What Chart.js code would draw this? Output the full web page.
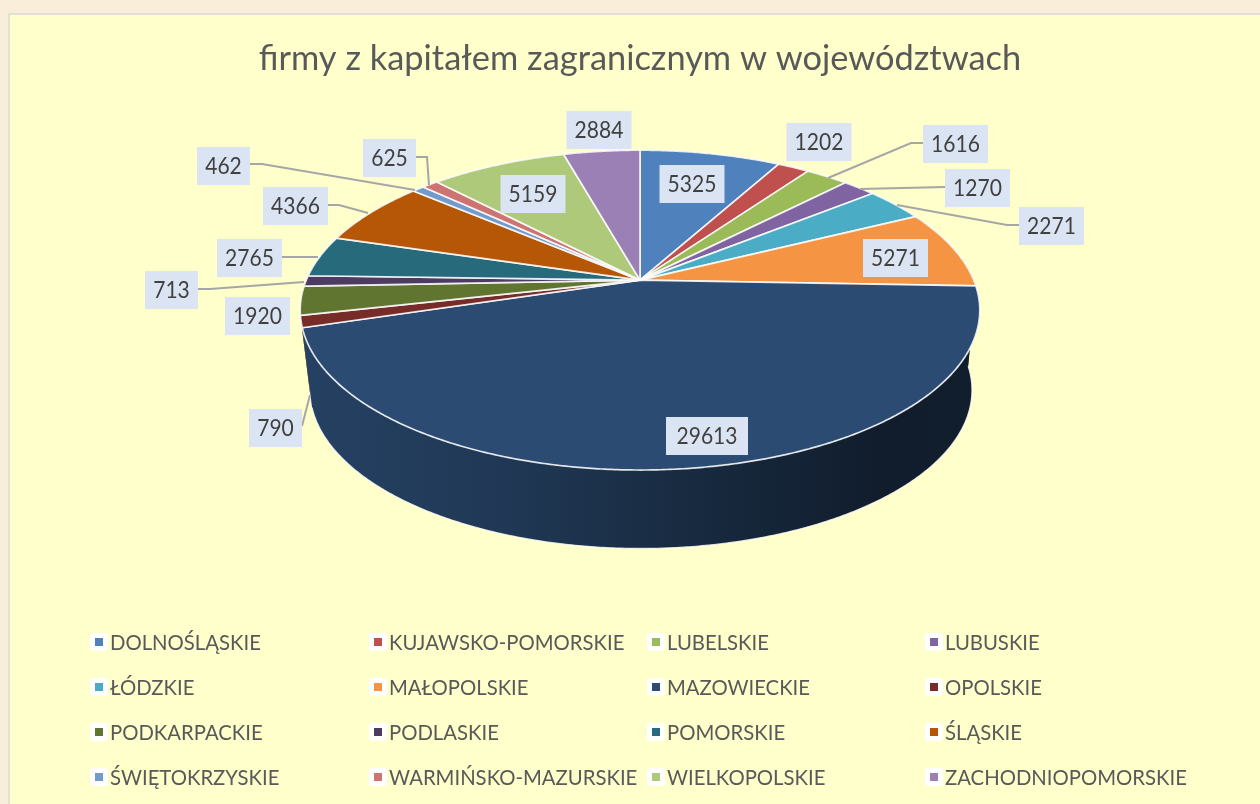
<!DOCTYPE html>
<html><head><meta charset="utf-8">
<script src="https://cdn.jsdelivr.net/npm/chart.js@4/dist/chart.umd.min.js"></script>
<style>
html,body{margin:0;padding:0;width:1260px;height:804px;overflow:hidden;background:#F8EEDA}
#panel{position:absolute;left:8px;top:13px;width:1300px;height:850px;background:#FFFFCC;border:2px solid #E3DFD6;box-sizing:border-box}
canvas{position:absolute;left:0;top:0}
</style></head><body>
<div id="panel"></div>
<canvas id="c" width="1280" height="804" style="width:1280px;height:804px"></canvas>
<script>
const chartTitle = 'firmy z kapitałem zagranicznym w województwach';
const categories = ['DOLNOŚLĄSKIE','KUJAWSKO-POMORSKIE','LUBELSKIE','LUBUSKIE','ŁÓDZKIE','MAŁOPOLSKIE','MAZOWIECKIE','OPOLSKIE','PODKARPACKIE','PODLASKIE','POMORSKIE','ŚLĄSKIE','ŚWIĘTOKRZYSKIE','WARMIŃSKO-MAZURSKIE','WIELKOPOLSKIE','ZACHODNIOPOMORSKIE'];
const values = [5325,1202,1616,1270,2271,5271,29613,790,1920,713,2765,4366,462,625,5159,2884];
const colors = ['#4F81BD','#C0504D','#9BBB59','#8064A2','#4BACC6','#F59443','#2B4B73','#772C2A','#5F7530','#4D3B62','#276A7C','#B65708','#729ACA','#CD7371','#AFC97A','#9A80B4'];

// label box centres and leader lines (page layout only)
const labelCentres = [[692,184],[819,142],[955.5,144],[977.5,188],[1051.5,226],[895.5,258],[707,436],[275.5,428],[257.5,316],[171.5,290],[249.5,258],[295.5,206],[223.5,166],[389.5,158],[533,194],[599,130]];
const leaders = {2:[[923,143],[911,143],[828,178]],3:[[945,187],[860,189]],4:[[1019,225],[1007,225],[897,205]],7:[[302,426],[310,395]],9:[[198,289],[210,289],[304,282]],10:[[282,257],[318,257]],11:[[328,205],[339,205],[368,213]],12:[[250,164],[262,164],[415,190]],13:[[416,157],[427,157],[429,185]]};
const legendColumns = [110,389,667,945];
const legendRows = [642,687,732,777];

const UI = 'Lato, "Open Sans", sans-serif';
const persp = -0.1875, sx = 334/186, sy = 154.4/186;
const baseSx = 0.974, baseSy = 0.99, topCy = 30, sideDrop = 80, baseDx = 1;

function project(el, a){
  const x = Math.cos(a), y = Math.sin(a), d = 1 + persp*y, r = el.outerRadius;
  return [el.x + sx*r*x/d, el.y + sy*r*y/d];
}
function projectBase(el, a){
  const p = project(el,a);
  return [el.x + baseDx + baseSx*(p[0]-el.x), el.y + topCy + sideDrop + baseSy*(p[1]-el.y-topCy)];
}
function shade(hex, f){
  const n = parseInt(hex.slice(1),16);
  return 'rgb('+[(n>>16)&255,(n>>8)&255,n&255].map(c=>Math.round(c*f)).join(',')+')';
}
function arcAngles(el){
  const out=[], n=Math.max(2,Math.ceil((el.endAngle-el.startAngle)/0.008));
  for(let i=0;i<=n;i++) out.push(el.startAngle+(el.endAngle-el.startAngle)*i/n);
  return out;
}
const pie3d = {
  id:'pie3d',
  beforeDatasetDraw(chart){
    const ctx = chart.ctx, els = chart.getDatasetMeta(0).data;
    const order = els.map((e,i)=>i).sort((a,b)=>Math.sin((els[a].startAngle+els[a].endAngle)/2)-Math.sin((els[b].startAngle+els[b].endAngle)/2));
    ctx.save();
    ctx.lineJoin='round';
    // side wall
    order.forEach(i=>{
      const el=els[i], as=arcAngles(el), first=project(el,as[0]);
      const cx=el.x, g=ctx.createLinearGradient(cx-340,0,cx+340,0);
      g.addColorStop(0,shade(colors[i],0.86));
      g.addColorStop(0.3,shade(colors[i],0.74));
      g.addColorStop(0.6,shade(colors[i],0.54));
      g.addColorStop(0.85,shade(colors[i],0.39));
      g.addColorStop(1,shade(colors[i],0.40));
      ctx.beginPath(); ctx.moveTo(first[0],first[1]);
      as.forEach(a=>{const p=project(el,a);ctx.lineTo(p[0],p[1]);});
      as.slice().reverse().forEach(a=>{const p=projectBase(el,a);ctx.lineTo(p[0],p[1]);});
      ctx.closePath(); ctx.fillStyle=g; ctx.fill();
      ctx.beginPath();
      as.forEach((a,k)=>{const p=projectBase(el,a);k?ctx.lineTo(p[0],p[1]):ctx.moveTo(p[0],p[1]);});
      ctx.strokeStyle='rgba(255,255,255,0.8)'; ctx.lineWidth=1.2; ctx.stroke();
    });
    // top surface
    els.forEach((el,i)=>{
      const as=arcAngles(el);
      ctx.beginPath(); ctx.moveTo(el.x,el.y);
      as.forEach(a=>{const p=project(el,a);ctx.lineTo(p[0],p[1]);});
      ctx.closePath(); ctx.fillStyle=colors[i]; ctx.fill();
      ctx.strokeStyle='rgba(255,255,255,0.85)'; ctx.lineWidth=1.7; ctx.stroke();
    });
    ctx.restore();
    return false;
  },
  afterDraw(chart){
    const ctx = chart.ctx;
    ctx.save();
    // leader lines
    ctx.strokeStyle='#A6A6A6'; ctx.lineWidth=2;
    Object.values(leaders).forEach(pts=>{
      ctx.beginPath();
      pts.forEach((p,k)=>k?ctx.lineTo(p[0],p[1]):ctx.moveTo(p[0],p[1]));
      ctx.stroke();
    });
    // value labels
    ctx.font='24px '+UI; ctx.textAlign='center'; ctx.textBaseline='middle';
    values.forEach((v,i)=>{
      const t=String(v), w=t.length>=5?82:(t.length===4?65:53), c=labelCentres[i];
      ctx.fillStyle='#DAE4F2';
      ctx.fillRect(c[0]-w/2,c[1]-19,w,38);
      ctx.fillStyle='#404040';
      ctx.fillText(t,c[0],c[1],t.length*12.2);
    });
    // legend grid
    ctx.textAlign='left'; ctx.font='21.5px '+UI;
    categories.forEach((name,i)=>{
      const x=legendColumns[i%4], y=legendRows[Math.floor(i/4)];
      ctx.fillStyle='#FFFFFF';
      ctx.beginPath(); ctx.roundRect(x-20,y-9,18,18,3); ctx.fill();
      ctx.fillStyle=colors[i];
      ctx.fillRect(x-15,y-4,8,8);
      ctx.fillStyle='#595959';
      ctx.fillText(name,x,y+1,ctx.measureText(name).width*0.944);
    });
    ctx.restore();
  }
};
new Chart(document.getElementById('c'),{
  type:'pie',
  data:{labels:categories,datasets:[{data:values,backgroundColor:colors,borderWidth:0}]},
  options:{
    responsive:false,animation:false,
    layout:{padding:{top:0,left:0,right:0,bottom:338}},
    plugins:{
      legend:{display:false},tooltip:{enabled:false},
      title:{display:true,text:chartTitle,color:'#595959',font:{family:UI,size:34.4,weight:'normal'},padding:{top:38,bottom:15}}
    }
  },
  plugins:[pie3d]
});
</script>
</body></html>
